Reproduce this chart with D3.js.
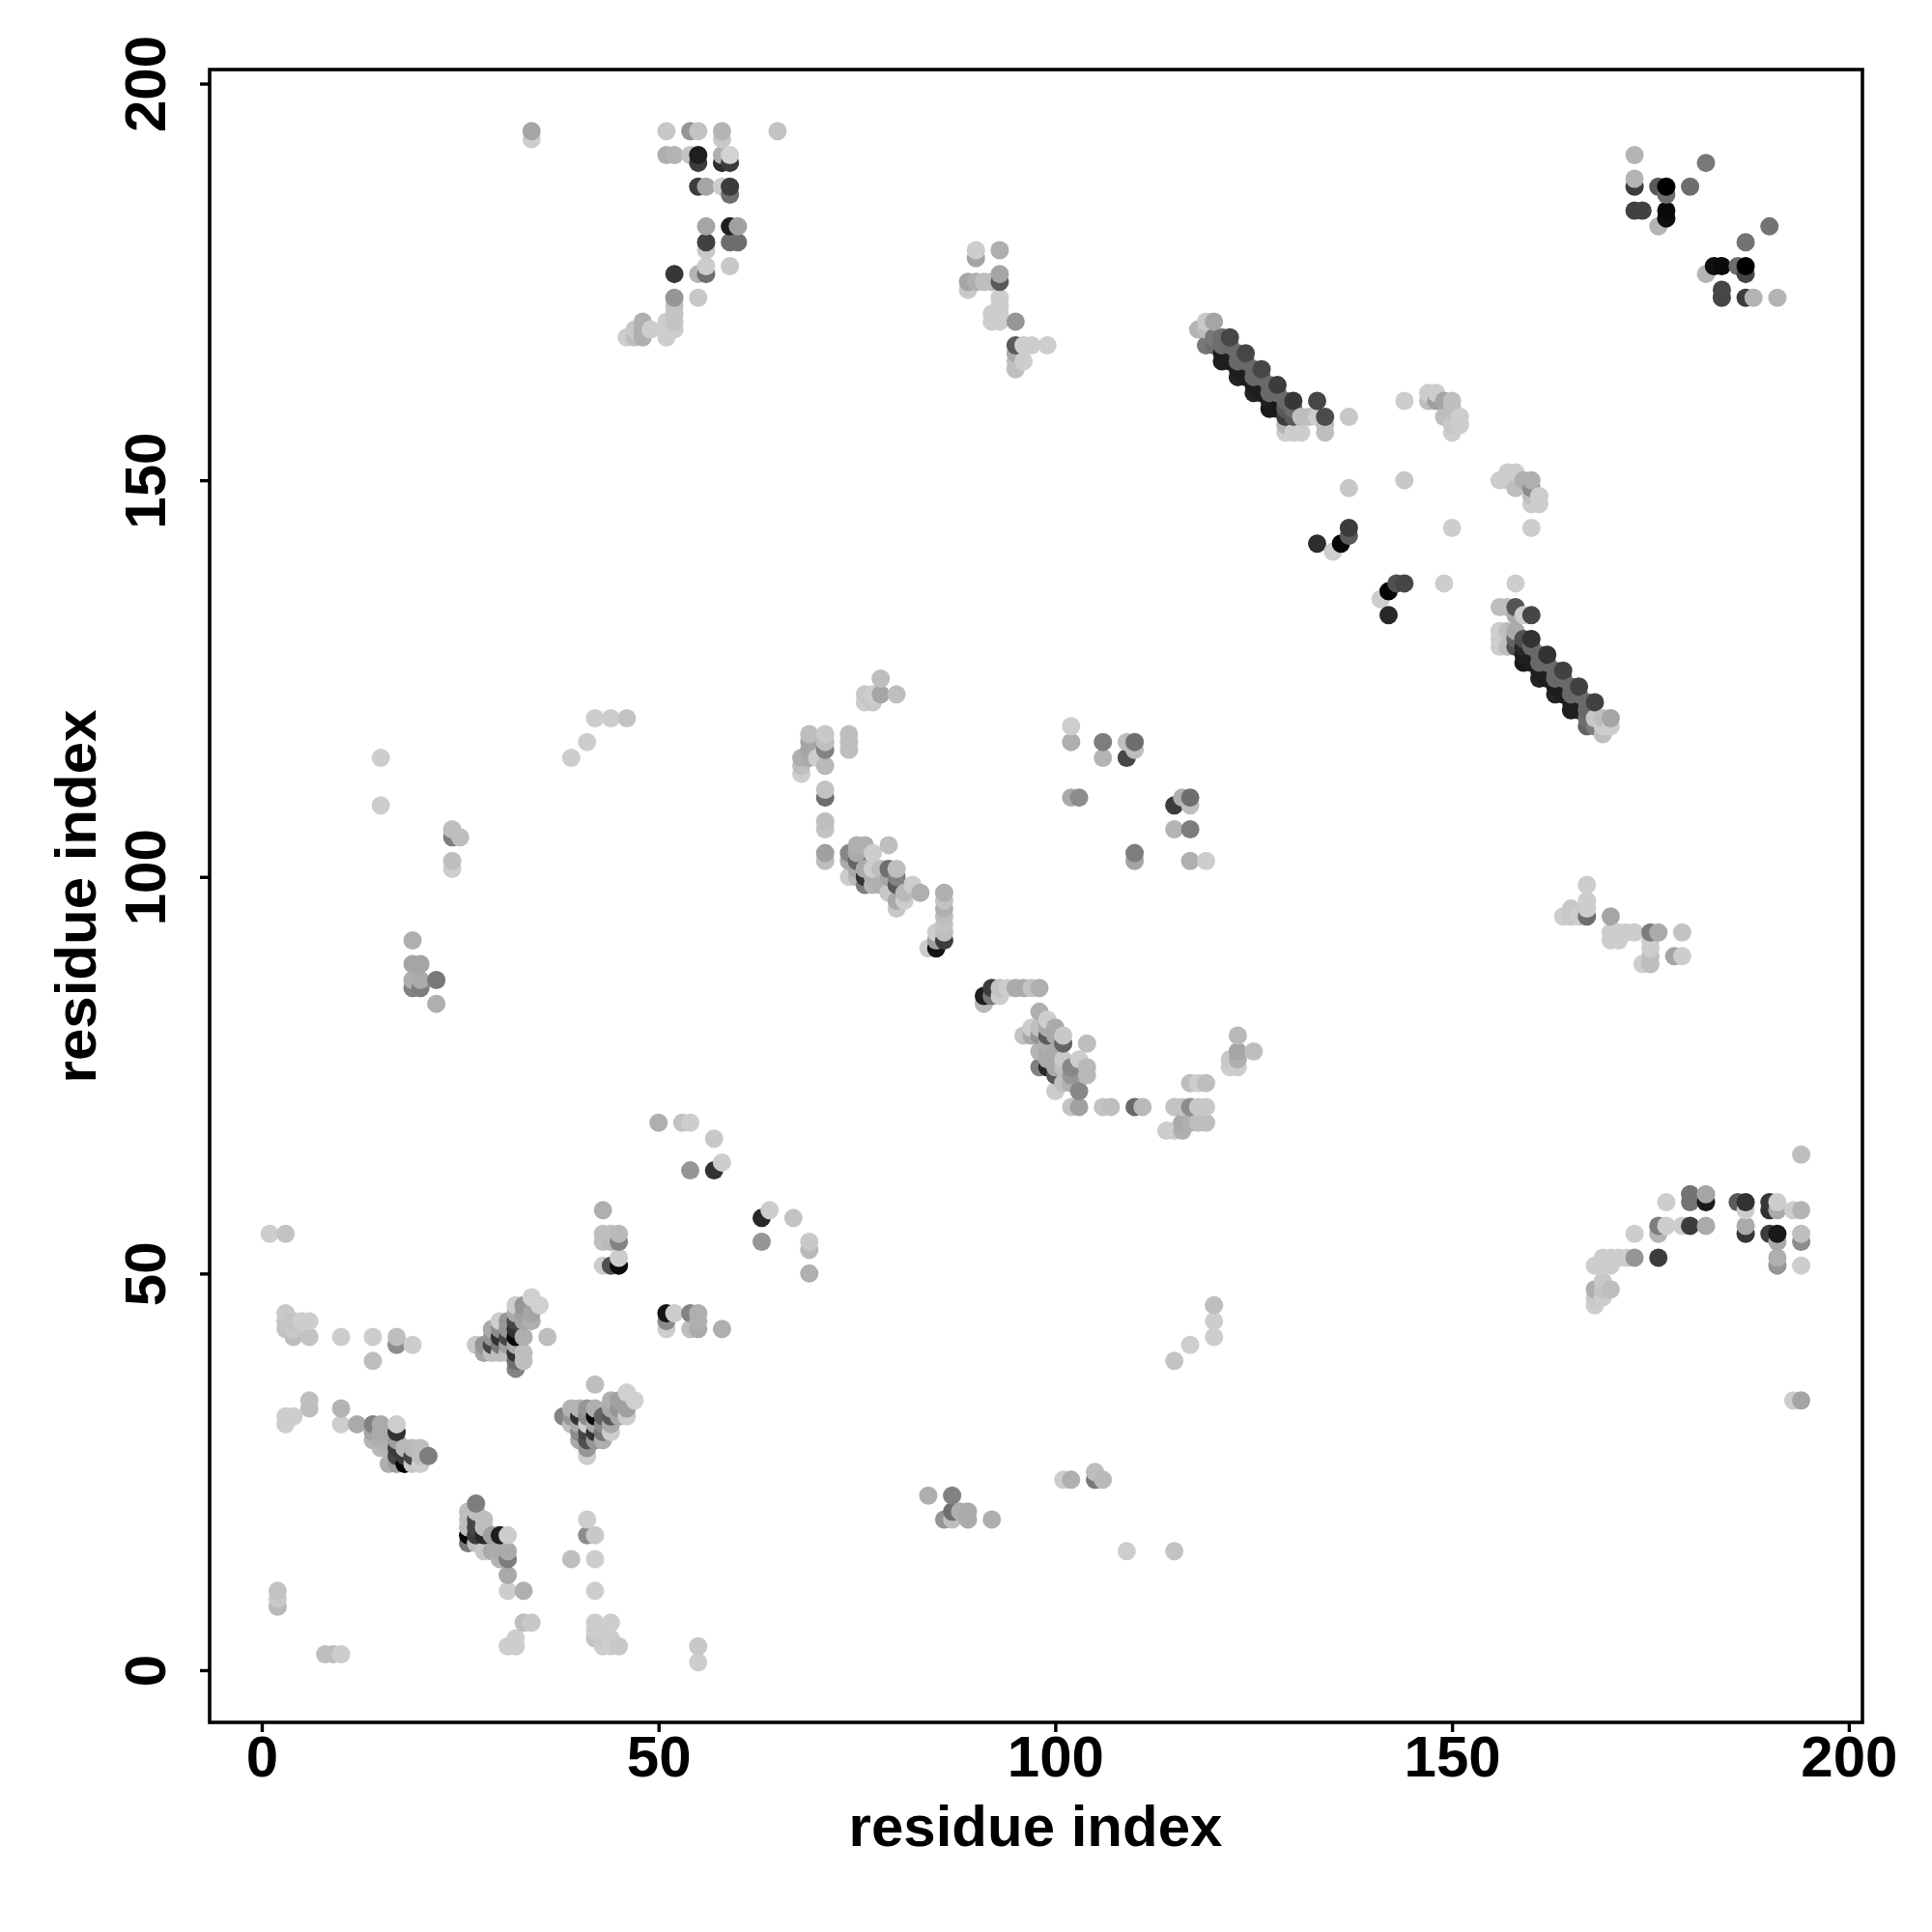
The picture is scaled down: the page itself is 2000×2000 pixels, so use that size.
<!DOCTYPE html>
<html><head><meta charset="utf-8">
<script src="https://cdnjs.cloudflare.com/ajax/libs/d3/7.8.5/d3.min.js"></script>
<style>html,body{margin:0;background:#fff}svg{display:block}text{font-family:"Liberation Sans",Arial,sans-serif;font-weight:bold;fill:#000}</style>
</head><body><div id="c"></div><script>
const xTicks=[0,50,100,150,200], yTicks=[0,50,100,150,200];
const xLabel="residue index", yLabel="residue index";
// [residue i, residue j, grey level]
const cornerLow=[[1,55,205],[3,55,195],[3,45,200],[3,44,195],[3,43,195],[4,44,195],[4,43,200],[4,42,190],[5,44,205],[6,44,205],[6,42,195],[10,42,205],[14,42,205],[14,39,190],[17,42,190],[17,41,140],[19,41,205],[2,10,195],[2,9,200],[2,8,185],[8,2,190],[9,2,190],[10,2,205],[6,34,190],[6,33,190],[4,32,205],[3,32,205],[3,31,205],[10,33,180],[10,31,205],[12,31,170]];
const clusterA=[[14,31,130],[15,31,170],[14,30,165],[15,30,170],[14,29,180],[15,29,175],[15,28,185],[16,30,170],[16,29,175],[16,28,180],[16,26,175],[17,31,205],[17,30,50],[17,29,160],[17,28,60],[17,27,70],[17,26,160],[18,28,185],[18,27,60],[18,26,5],[19,28,185],[19,27,70],[19,26,200],[20,28,190],[20,27,190],[20,26,205],[21,27,125]];
const clusterB=[[27,41,200],[28,41,150],[28,40,165],[29,43,170],[29,42,150],[29,41,70],[29,40,190],[30,44,205],[30,43,140],[30,42,50],[30,41,120],[30,40,190],[31,44,150],[31,43,150],[31,42,70],[31,41,160],[31,40,190],[32,46,205],[32,45,170],[32,44,70],[32,43,50],[32,42,10],[32,41,170],[32,40,50],[32,39,110],[32,38,130],[33,46,150],[33,45,160],[33,44,165],[33,42,175],[33,40,190],[33,39,190],[34,47,208],[34,45,165],[34,44,175],[35,46,208],[36,42,190]];
const clusterC=[[38,32,130],[39,33,180],[39,32,150],[39,31,190],[40,33,180],[40,32,50],[40,31,170],[40,30,140],[40,29,170],[41,33,150],[41,32,140],[41,31,205],[41,30,70],[41,29,80],[41,28,150],[41,27,205],[42,36,190],[42,33,175],[42,32,10],[42,31,170],[42,30,50],[42,29,150],[43,32,100],[43,31,140],[43,30,120],[43,29,175],[44,34,175],[44,33,170],[44,32,90],[44,31,170],[44,30,205],[45,34,160],[45,33,150],[45,32,170],[46,35,208],[46,33,160],[46,32,205],[47,34,208]];
const clusterD=[[26,20,190],[26,19,190],[26,18,190],[26,17,5],[26,16,120],[27,21,125],[27,20,190],[27,19,70],[27,18,70],[27,17,60],[27,16,190],[28,19,190],[28,18,190],[28,17,40],[28,15,200],[29,17,160],[29,15,170],[30,17,30],[30,15,170],[30,14,180],[31,17,205],[31,15,170],[31,14,125],[31,12,170],[31,10,205],[33,10,175],[33,6,190],[34,6,200],[32,4,205],[31,3,205],[32,3,205]];
const lowMid=[[39,14,190],[42,14,205],[42,17,200],[41,17,140],[41,19,205],[42,10,205],[42,6,205],[44,6,205],[42,5,205],[43,5,205],[42,4,195],[43,4,200],[44,4,205],[43,3,205],[44,3,205],[45,3,200],[55,3,200],[55,1,205]];
const midLow=[[50,69,175],[53,69,195],[54,69,205],[57,67,200],[58,64,205],[57,63,50],[54,63,150],[63,57,40],[64,58,205],[67,57,195],[63,54,150],[69,54,200],[69,53,185],[69,50,175],[43,58,175],[43,55,190],[44,55,190],[45,55,185],[45,54,130],[43,54,190],[44,54,185],[45,52,205],[45,51,10],[44,51,80],[43,51,205],[51,45,20],[52,45,205],[51,44,140],[51,43,205],[54,45,130],[55,45,175],[54,43,190],[55,44,175],[55,43,170],[58,43,175]];
const lowCentre=[[84,22,175],[87,22,130],[86,19,150],[87,20,110],[88,20,175],[89,20,170],[89,19,170],[87,19,190],[92,19,175],[101,24,205],[102,24,175],[105,25,190],[105,24,120],[106,24,185],[109,15,205],[115,15,195],[115,39,195],[117,41,205],[120,42,205],[120,44,205],[120,46,190],[193,34,205],[194,34,165]];
const bendRight=[[123,80,185],[123,78,165],[122,77,200],[123,77,175],[125,78,190],[122,76,205],[123,76,205],[117,74,190],[118,74,205],[119,74,190],[115,71,195],[116,71,195],[117,71,140],[118,71,200],[119,71,200],[114,68,205],[115,68,205],[116,68,175],[116,69,170],[117,69,175],[118,69,190],[119,69,190],[102,71,195],[103,71,160],[106,71,195],[107,71,190],[110,71,105],[111,71,185]];
const bendLeft=[[96,80,195],[97,81,205],[97,80,170],[98,83,175],[98,81,190],[98,80,150],[98,78,180],[98,76,130],[99,82,205],[99,81,170],[99,80,90],[99,79,175],[99,78,170],[99,77,170],[99,76,40],[100,81,170],[100,80,170],[100,78,170],[100,76,170],[100,75,90],[100,73,205],[101,80,200],[101,79,100],[101,77,200],[101,76,190],[101,74,190],[102,76,135],[102,75,150],[102,74,175],[103,77,205],[103,73,135],[104,79,190],[104,76,185],[104,75,185],[91,85,30],[92,86,60],[92,85,120],[91,84,185],[93,86,195],[93,85,205],[94,86,205],[95,86,170],[96,86,170],[97,86,195],[98,86,175]];
const strandMid=[[71,103,160],[71,102,190],[74,103,135],[74,102,170],[74,100,205],[75,104,175],[75,103,170],[75,102,100],[75,101,170],[75,100,185],[76,104,175],[76,101,170],[76,100,50],[76,99,125],[77,103,205],[77,101,205],[77,100,175],[77,99,180],[78,101,190],[78,99,175],[79,104,190],[79,101,110],[79,100,165],[79,98,200],[80,101,190],[80,100,130],[80,99,90],[80,97,170],[80,96,200],[81,98,185],[81,97,205],[82,99,205],[83,98,175],[86,98,175],[86,97,195],[86,96,175],[86,95,190],[86,94,195],[86,93,190],[86,92,60],[85,93,205],[85,92,160],[85,91,20],[84,91,205]];
const topLeft=[[34,194,165],[34,193,205],[51,194,200],[54,194,150],[55,194,195],[58,194,180],[58,193,200],[65,194,195],[51,191,175],[52,191,180],[54,191,195],[55,191,30],[55,190,60],[58,191,175],[58,190,45],[59,191,210],[59,190,60],[55,187,60],[56,187,165],[58,187,205],[59,187,60],[59,186,110],[56,182,165],[59,182,30],[60,182,160],[56,180,65],[59,180,110],[60,180,110],[56,179,200],[56,177,205],[59,177,200],[52,176,55],[55,176,180],[56,176,110],[52,173,150],[55,173,200],[52,172,195],[52,171,195],[52,170,195],[52,169,205],[51,170,205],[51,169,205],[51,168,205],[48,170,175],[47,169,200],[48,169,175],[49,169,205],[46,168,205],[47,168,190],[48,168,175]];
const midLeft=[[15,115,205],[15,109,205],[39,115,205],[41,117,205],[42,120,205],[44,120,205],[46,120,195],[24,106,190],[24,105,125],[25,105,190],[24,102,190],[24,101,205],[19,92,175],[19,89,165],[20,89,165],[19,87,175],[20,87,170],[19,86,130],[20,86,125],[22,87,120],[22,84,175]];
const hookTop=[[69,118,190],[71,118,200],[69,117,165],[71,117,190],[69,116,165],[71,116,130],[68,115,175],[69,115,170],[70,115,205],[71,114,185],[68,114,190],[68,113,205],[74,118,190],[74,117,190],[74,116,190],[71,111,195],[71,110,110],[71,107,190],[71,106,195],[78,125,190],[76,123,200],[77,123,205],[78,123,165],[80,123,190],[76,122,205],[77,122,200]];
const upperMid=[[90,179,205],[90,178,165],[93,179,175],[93,176,165],[93,175,90],[90,175,175],[89,175,165],[89,174,200],[91,175,190],[92,175,190],[93,173,205],[93,172,205],[93,171,205],[92,171,205],[92,170,205],[93,170,205],[95,170,150],[95,167,90],[96,167,205],[97,167,205],[99,167,205],[95,166,170],[96,165,205],[95,165,190],[95,164,190]];
const ridgeUpper=[[118,169,180],[119,170,200],[119,169,190],[119,167,120],[120,170,165],[120,168,120],[120,167,110],[121,168,110],[121,167,110],[121,166,30],[121,165,30],[122,168,70],[122,167,105],[122,165,30],[123,166,105],[123,165,105],[123,164,30],[123,163,35],[124,166,70],[124,165,105],[124,163,30],[125,164,105],[125,163,105],[125,162,30],[125,161,35],[126,164,70],[126,163,105],[126,161,30],[127,162,105],[127,161,105],[127,160,30],[127,159,25],[128,162,60],[128,161,105],[128,159,25],[129,160,105],[129,159,90],[129,158,60],[129,157,180],[129,156,205],[130,160,55],[130,159,110],[130,158,90],[130,156,205],[131,158,190],[131,156,205],[132,158,190],[133,160,70],[133,158,205],[134,158,75],[134,157,190],[134,156,190],[137,158,200]];
const ridgeLower=[[156,134,190],[157,134,190],[158,134,85],[158,133,170],[159,133,205],[160,133,70],[156,131,205],[157,131,190],[156,130,205],[156,129,205],[157,129,190],[158,131,170],[158,130,100],[158,129,80],[159,130,80],[159,129,40],[159,128,30],[159,127,25],[160,130,50],[160,129,105],[160,127,30],[161,128,105],[161,127,105],[161,126,30],[161,125,35],[162,128,50],[162,127,105],[162,125,30],[163,126,105],[163,125,105],[163,124,30],[163,123,35],[164,126,65],[164,125,105],[164,123,30],[165,124,105],[165,123,105],[165,122,30],[165,121,30],[166,124,65],[166,123,105],[166,121,30],[167,122,105],[167,121,105],[167,120,110],[167,119,100],[168,122,65],[168,120,200],[168,119,125],[169,120,190],[169,119,205],[169,118,190],[170,120,165],[170,119,205]];
const crossing=[[144,160,205],[147,161,205],[148,161,205],[147,160,190],[148,160,160],[149,160,165],[150,160,190],[149,158,190],[150,159,190],[151,158,205],[151,157,205],[150,157,200],[150,156,205],[137,149,200],[144,150,200],[133,142,45],[137,144,60],[137,143,90],[136,142,5],[135,141,205],[150,144,205],[160,144,205],[149,137,205],[158,137,205],[142,136,5],[143,137,80],[144,137,70],[141,135,205],[142,133,40],[156,150,205],[157,151,205],[158,151,205],[157,150,205],[158,149,190],[159,150,175],[160,150,175],[160,149,140],[160,148,190],[160,147,205],[161,148,205],[161,147,205]];
const centreRight=[[102,119,205],[102,117,175],[106,117,125],[106,115,180],[109,117,190],[110,117,110],[110,116,190],[109,115,70],[102,110,170],[103,110,140],[116,110,175],[117,110,110],[115,109,60],[117,109,190],[115,106,180],[117,106,125],[110,103,125],[110,102,165],[117,102,175],[119,102,205],[167,99,205],[167,97,205],[165,96,200],[164,95,205],[165,95,200],[166,95,205],[167,96,205],[167,95,110],[170,95,165],[170,93,205],[171,93,205],[172,93,205],[173,93,205],[175,93,125],[176,93,170],[179,93,195],[170,92,205],[171,92,205],[175,92,205],[175,91,205],[178,90,165],[179,90,205],[174,89,205],[175,89,190],[175,90,190]];
const arcRight=[[194,65,190],[180,60,115],[182,60,165],[180,59,115],[182,59,25],[177,59,205],[186,59,90],[187,59,50],[190,59,55],[191,59,205],[190,58,50],[191,58,170],[187,58,205],[193,58,205],[194,58,180],[176,56,125],[177,56,205],[179,56,205],[180,56,60],[182,56,170],[176,55,180],[187,56,170],[187,55,55],[173,55,205],[190,55,60],[191,55,25],[194,55,190],[191,54,170],[194,54,140],[191,52,175],[191,51,150],[194,51,205],[176,52,60],[173,52,150],[172,52,205],[171,52,205],[170,52,205],[169,52,205],[168,51,205],[169,51,205],[170,51,205],[169,49,200],[168,48,175],[170,48,190],[169,48,195],[168,47,200],[169,47,205],[168,46,205]];
const cornerTop=[[173,191,180],[173,188,180],[173,187,60],[176,187,90],[177,187,0],[177,186,110],[180,187,110],[182,190,120],[173,184,65],[174,184,65],[177,184,10],[177,183,15],[176,182,180],[190,182,115],[187,180,115],[183,177,15],[184,177,10],[186,177,110],[187,177,0],[187,176,70],[182,176,180],[184,174,70],[184,173,70],[187,173,60],[188,173,180],[191,173,180]];

const points=[].concat(cornerLow,clusterA,clusterB,clusterC,clusterD,lowMid,midLow,lowCentre,bendRight,bendLeft,strandMid,topLeft,midLeft,hookTop,upperMid,ridgeUpper,ridgeLower,crossing,centreRight,arcRight,cornerTop)
  .sort((a,b)=>a[0]-b[0]||a[1]-b[1]);

const W=2000,H=2000,L=217,R=1928,T=72,B=1783;
const svg=d3.select("#c").append("svg").attr("width",W).attr("height",H);
const x=d3.scaleLinear().domain([-6.57,201.72]).range([L,R]);
const y=d3.scaleLinear().domain([-6.58,201.77]).range([B,T]);

svg.append("g").selectAll("circle").data(points).join("circle")
  .attr("cx",d=>x(d[0])).attr("cy",d=>y(d[1])).attr("r",9.5)
  .attr("fill",d=>d3.rgb(d[2],d[2],d[2]));

const gx=svg.append("g").attr("transform",`translate(0,${B})`)
  .call(d3.axisBottom(x).tickValues(xTicks).tickSize(10).tickSizeOuter(0).tickFormat(d3.format("d")));
const gy=svg.append("g").attr("transform",`translate(${L},0)`)
  .call(d3.axisLeft(y).tickValues(yTicks).tickSize(10).tickSizeOuter(0).tickFormat(d3.format("d")));
svg.selectAll(".domain").remove();
svg.selectAll(".tick line").attr("stroke","#000").attr("stroke-width",3.4);
gx.selectAll("text").attr("font-size",60).attr("dy",null).attr("text-anchor","middle").attr("y",56);
gy.selectAll("text").attr("font-size",60).attr("dy",null).attr("text-anchor","middle").attr("x",null)
  .attr("transform","translate(-46,0) rotate(-90)");
svg.append("rect").attr("x",L).attr("y",T).attr("width",R-L).attr("height",B-T)
  .attr("fill","none").attr("stroke","#000").attr("stroke-width",3.6);
svg.append("text").attr("x",1072).attr("y",1911).attr("text-anchor","middle").attr("font-size",60).text(xLabel);
svg.append("text").attr("transform","translate(99,928) rotate(-90)").attr("text-anchor","middle").attr("font-size",60).text(yLabel);
</script></body></html>
